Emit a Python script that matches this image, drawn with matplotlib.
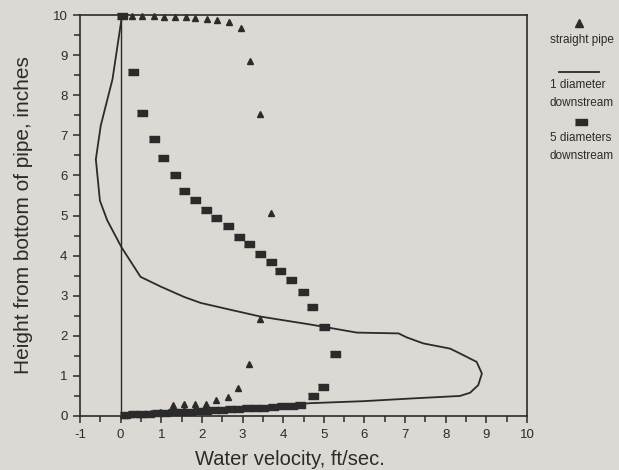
import matplotlib
matplotlib.use("Agg")
import matplotlib.pyplot as plt
from matplotlib.ticker import MultipleLocator

# straight pipe (triangles)
tri_x = [0.29, 0.53, 0.82, 1.06, 1.35, 1.60, 1.84, 2.13, 2.38, 2.66, 2.95,
         3.19, 3.44, 3.69, 3.42, 3.17, 2.89, 2.64, 2.35,
         2.09, 1.83, 1.56, 1.29, 0.98, 0.75, 0.49, 0.25, 0.10,
         2.09, 1.83, 1.56, 1.29]
tri_y = [9.97, 9.97, 9.97, 9.96, 9.96, 9.95, 9.93, 9.90, 9.87, 9.82, 9.67,
         8.86, 7.53, 5.05, 2.41, 1.29, 0.69, 0.48, 0.41,
         0.16, 0.15, 0.14, 0.12, 0.10, 0.08, 0.06, 0.04, 0.03,
         0.30, 0.31, 0.30, 0.27]

# 1 diameter downstream (line)
line_x = [0.0, 0.02, -0.20, -0.49, -0.61, -0.51, -0.33, 0.02, 0.49, 0.98,
          1.56, 1.97, 2.70, 3.44, 3.93, 4.62, 4.91, 5.81, 6.84, 7.04, 7.45,
          8.11, 8.35, 8.76, 8.89, 8.80, 8.60, 8.35, 7.21, 5.98, 4.67, 4.00,
          3.00, 2.00, 1.00, 0.10]
line_y = [10.0, 9.89, 8.40, 7.24, 6.40, 5.37, 4.88, 4.21, 3.47, 3.23,
          2.97, 2.82, 2.65, 2.48, 2.40, 2.29, 2.24, 2.08, 2.06, 1.96, 1.81,
          1.68, 1.56, 1.35, 1.06, 0.77, 0.58, 0.50, 0.44, 0.37, 0.32, 0.27,
          0.20, 0.12, 0.06, 0.01]

# 5 diameters downstream (squares)
sq_x = [0.04, 0.31, 0.53, 0.82, 1.05, 1.33, 1.57, 1.83, 2.10, 2.35, 2.64,
        2.91, 3.17, 3.42, 3.69, 3.93, 4.20, 4.49, 4.70, 5.00, 5.27, 4.98,
        4.73, 4.42, 4.22, 3.97, 3.75, 3.50, 3.30, 3.10, 2.90, 2.70, 2.50,
        2.30, 2.10, 1.90, 1.70, 1.50, 1.30, 1.10, 0.90, 0.70, 0.50, 0.30, 0.10]
sq_y = [9.98, 8.59, 7.55, 6.91, 6.43, 6.00, 5.62, 5.39, 5.14, 4.93, 4.73,
        4.46, 4.30, 4.05, 3.84, 3.61, 3.38, 3.09, 2.71, 2.22, 1.54, 0.73,
        0.50, 0.27, 0.25, 0.24, 0.22, 0.21, 0.20, 0.19, 0.18, 0.17, 0.15,
        0.14, 0.13, 0.12, 0.11, 0.10, 0.09, 0.08, 0.07, 0.06, 0.05, 0.04, 0.03]

bg = "#dcd9d4"
ink = "#2b2b2b"
plt.rcParams["font.family"] = ["Liberation Sans", "DejaVu Sans"]
plt.rcParams["axes.unicode_minus"] = False

fig = plt.figure(figsize=(6.19, 4.70), dpi=100, facecolor=bg)
ax = fig.add_axes([80 / 619, 54 / 470, 447 / 619, 401 / 470], facecolor=bg)

rect = [(-1, -0.5), (1, -0.5), (1, 0.5), (-1, 0.5)]

ax.axvline(0, ymin=0, ymax=1, color=ink, lw=1.0)
ax.plot(line_x, line_y, color=ink, lw=1.3, clip_on=False)
ax.plot(sq_x, sq_y, ls="none", marker=rect, ms=7.5, color=ink, clip_on=False)
ax.plot(tri_x, tri_y, ls="none", marker="^", ms=5, color=ink, clip_on=False)

ax.set_xlim(-1, 10)
ax.set_ylim(0, 10)
ax.xaxis.set_major_locator(MultipleLocator(1))
ax.xaxis.set_minor_locator(MultipleLocator(0.5))
ax.yaxis.set_major_locator(MultipleLocator(1))
ax.yaxis.set_minor_locator(MultipleLocator(0.5))
ax.tick_params(which="both", direction="out", color=ink, width=1.1,
               labelcolor=ink, labelsize=9.5)
ax.tick_params(which="major", length=5, pad=4)
ax.tick_params(which="minor", length=4)
for s in ax.spines.values():
    s.set_color(ink)
    s.set_linewidth(1.2)

ax.set_xlabel("Water velocity, ft/sec.", fontsize=14.5, color=ink, labelpad=6)
ax.xaxis.set_label_coords(0.47, -0.085)
ax.set_ylabel("Height from bottom of pipe, inches", fontsize=15, color=ink,
              labelpad=14)

# legend drawn by hand at the right
tr = fig.transFigure
W, H = 619, 470
ax.plot([579 / W], [1 - 23 / H], transform=tr, marker="^", ms=6, color=ink,
        clip_on=False)
fig.text(550 / W, 1 - 40 / H, "straight pipe", fontsize=8.5, color=ink,
         va="center", ha="left")
ax.plot([559 / W, 599 / W], [1 - 72 / H, 1 - 72 / H], transform=tr, color=ink,
        lw=1.3, clip_on=False)
fig.text(550 / W, 1 - 85 / H, "1 diameter", fontsize=8.5, color=ink,
         va="center", ha="left")
fig.text(550 / W, 1 - 103 / H, "downstream", fontsize=8.5, color=ink,
         va="center", ha="left")
ax.plot([581 / W], [1 - 122 / H], transform=tr, marker=rect, ms=8, color=ink,
        clip_on=False)
fig.text(550 / W, 1 - 138 / H, "5 diameters", fontsize=8.5, color=ink,
         va="center", ha="left")
fig.text(550 / W, 1 - 156 / H, "downstream", fontsize=8.5, color=ink,
         va="center", ha="left")

fig.savefig("out.png", dpi=100, facecolor=bg)
